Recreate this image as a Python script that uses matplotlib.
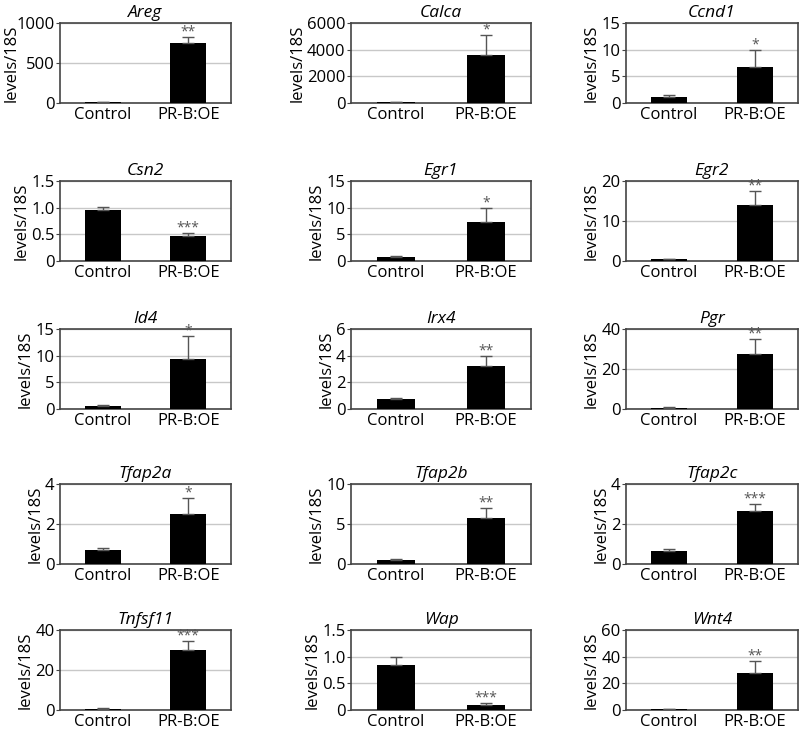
import matplotlib
matplotlib.use("Agg")
import matplotlib.pyplot as plt

genes = ['Areg', 'Calca', 'Ccnd1', 'Csn2', 'Egr1', 'Egr2', 'Id4', 'Irx4', 'Pgr',
         'Tfap2a', 'Tfap2b', 'Tfap2c', 'Tnfsf11', 'Wap', 'Wnt4']
groups = ['Control', 'PR-B:OE']

control_mean = [8, 40, 1.2, 0.96, 0.8, 0.4, 0.6, 0.75, 0.6, 0.72, 0.5, 0.65, 0.6, 0.85, 0.8]
control_err = [3, 20, 0.3, 0.05, 0.2, 0.2, 0.15, 0.08, 0.2, 0.1, 0.1, 0.1, 0.2, 0.15, 0.2]
oe_mean = [750, 3600, 6.8, 0.46, 7.3, 14.0, 9.4, 3.2, 27.5, 2.5, 5.7, 2.65, 30, 0.1, 28]
oe_err = [80, 1500, 3.2, 0.06, 2.6, 3.5, 4.3, 0.8, 7.5, 0.8, 1.3, 0.35, 4.5, 0.03, 8.5]
stars = ['**', '*', '*', '***', '*', '**', '*', '**', '**', '*', '**', '***', '***', '***', '**']

yticks = [[0, 500, 1000], [0, 2000, 4000, 6000], [0, 5, 10, 15], [0, 0.5, 1.0, 1.5],
          [0, 5, 10, 15], [0, 10, 20], [0, 5, 10, 15], [0, 2, 4, 6], [0, 20, 40],
          [0, 2, 4], [0, 5, 10], [0, 2, 4], [0, 20, 40], [0, 0.5, 1.0, 1.5], [0, 20, 40, 60]]
ytick_labels = [['0', '500', '1000'], ['0', '2000', '4000', '6000'], ['0', '5', '10', '15'],
                ['0', '0.5', '1.0', '1.5'], ['0', '5', '10', '15'], ['0', '10', '20'],
                ['0', '5', '10', '15'], ['0', '2', '4', '6'], ['0', '20', '40'],
                ['0', '2', '4'], ['0', '5', '10'], ['0', '2', '4'], ['0', '20', '40'],
                ['0', '0.5', '1.0', '1.5'], ['0', '20', '40', '60']]

W, H = 800, 733
col_left = [60, 351, 626]
col_width = [171, 180, 172]
row_top = [23, 181, 329, 484, 630]
ax_h = 80

plt.rcParams['font.family'] = ['Open Sans', 'DejaVu Sans']
fig = plt.figure(figsize=(W / 100, H / 100), dpi=100)

for i, gene in enumerate(genes):
    r, c = divmod(i, 3)
    left = col_left[c] / W
    bottom = 1 - (row_top[r] + ax_h) / H
    ax = fig.add_axes([left, bottom, col_width[c] / W, ax_h / H])

    means = [control_mean[i], oe_mean[i]]
    errs = [control_err[i], oe_err[i]]
    ax.bar([0, 1], means, width=0.42, color='black', zorder=3)
    ax.errorbar([0, 1], means, yerr=[[0, 0], errs], fmt='none', ecolor='#555555',
                elinewidth=1, capsize=4, capthick=1, zorder=4)

    top = yticks[i][-1]
    ax.text(1, oe_mean[i] + oe_err[i] - top * 0.03, stars[i], ha='center', va='bottom',
            fontsize=10, color='#555555', zorder=5, clip_on=False)

    ax.set_xlim(-0.5, 1.5)
    ax.set_ylim(0, top)
    ax.set_yticks(yticks[i])
    ax.set_yticklabels(ytick_labels[i])
    ax.set_xticks([0, 1])
    ax.set_xticklabels(groups)
    ax.tick_params(axis='x', length=0, labelsize=12, pad=3)
    ax.tick_params(axis='y', length=3, labelsize=12, pad=1, color='#444444')
    ax.yaxis.grid(True, color='#c8c8c8', linewidth=1, zorder=0)
    ax.set_axisbelow(True)
    for s in ax.spines.values():
        s.set_color('#444444')
        s.set_linewidth(1.2)
    ax.set_ylabel('levels/18S', fontsize=12, labelpad=1)
    if i == 0:
        # widest tick labels: keep the label inside the figure, overlapping like the original
        ax.yaxis.set_label_coords(-40 / col_width[c], 0.5)
    ax.set_title(gene, fontsize=12.5, style='italic', pad=4)

fig.savefig('out.png', dpi=100)
